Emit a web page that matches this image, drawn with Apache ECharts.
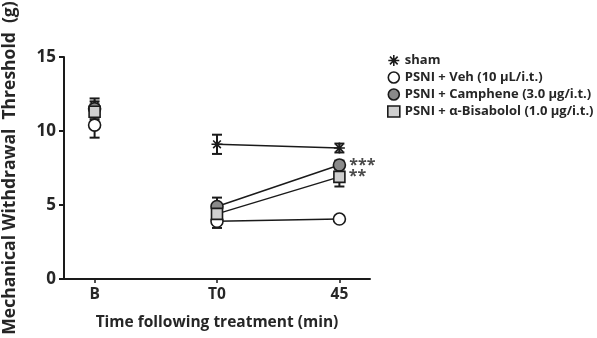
<!DOCTYPE html>
<html><head><meta charset="utf-8">
<script src="https://cdn.jsdelivr.net/npm/echarts@6/dist/echarts.min.js"></script>
<style>html,body{margin:0;padding:0;background:#fff}#c{width:597px;height:338px}</style>
</head><body><div id="c"></div>
<script>
var categories = ['B', 'T0', '45'];
var seriesNames = ['sham', 'PSNI + Veh (10 \u03bcL/i.t.)', 'PSNI + Camphene (3.0 \u03bcg/i.t.)', 'PSNI + \u03b1-Bisabolol (1.0 \u03bcg/i.t.)'];
var shamMean = [11.7, 9.1, 8.85];
var shamErr = [0.5, 0.65, 0.3];
var vehMean = [10.4, 3.9, 4.05];
var vehErr = [0.85, 0.45, 0.2];
var campheneMean = [11.5, 4.9, 7.7];
var campheneErr = [0.5, 0.6, 0.3];
var bisaMean = [11.3, 4.4, 6.9];
var bisaErr = [0.5, 0.5, 0.65];
var sigLabels = ['', '', '***', '**']; // at 45 min, per series
var yTicks = [0, 5, 10, 15];

var FONT = 'Open Sans';
var TXT = '#262626';
var starPath = 'path://M-0.7,-5L0.7,-5L0.7,5L-0.7,5ZM-5,-0.7L5,-0.7L5,0.7L-5,0.7ZM-4,-3L-3,-4L4,3L3,4ZM3,-4L4,-3L-3,4L-4,3Z';
var groups = [
  {mean: shamMean, err: shamErr, symbol: starPath, size: 11, fill: '#1a1a1a'},
  {mean: vehMean, err: vehErr, symbol: 'circle', size: 12, fill: '#ffffff'},
  {mean: campheneMean, err: campheneErr, symbol: 'circle', size: 12, fill: '#8a8a8a'},
  {mean: bisaMean, err: bisaErr, symbol: 'rect', size: 11, fill: '#cfcfcf'}
];

var series = [];
groups.forEach(function (g, i) {
  var name = seriesNames[i];
  series.push({
    type: 'custom', name: name, z: 3,
    renderItem: function (params, api) {
      var x = api.value(0), m = api.value(1), e = api.value(2);
      var top = api.coord([x, m + e]), bot = api.coord([x, m - e]);
      var w = 5;
      return {type: 'group', children: [
        {type: 'line', shape: {x1: top[0], y1: top[1], x2: bot[0], y2: bot[1]}, style: {stroke: '#1a1a1a', lineWidth: 2}},
        {type: 'line', shape: {x1: top[0] - w, y1: top[1], x2: top[0] + w, y2: top[1]}, style: {stroke: '#1a1a1a', lineWidth: 2}},
        {type: 'line', shape: {x1: bot[0] - w, y1: bot[1], x2: bot[0] + w, y2: bot[1]}, style: {stroke: '#1a1a1a', lineWidth: 2}}
      ]};
    },
    data: g.mean.map(function (v, k) { return [k, v, g.err[k]]; })
  });
  series.push({
    type: 'scatter', name: name, z: 5,
    symbol: g.symbol, symbolSize: g.size,
    itemStyle: {color: g.fill, borderColor: '#1a1a1a', borderWidth: i === 0 ? 0 : 1.6, opacity: 1},
    data: [[0, g.mean[0]]]
  });
  series.push({
    type: 'line', name: name, z: 4,
    symbol: g.symbol, symbolSize: g.size, showAllSymbol: true,
    lineStyle: {color: '#1a1a1a', width: 1.5},
    itemStyle: {color: g.fill, borderColor: '#1a1a1a', borderWidth: i === 0 ? 0 : 1.6},
    label: {
      show: true, position: 'right', distance: 3,
      formatter: function (p) { return p.dataIndex === 1 ? sigLabels[i] : ''; },
      fontFamily: FONT, fontWeight: 'bold', fontSize: 16, color: '#4a4a4a'
    },
    data: [[1, g.mean[1]], [2, g.mean[2]]]
  });
});

var chart = echarts.init(document.getElementById('c'));
chart.setOption({
  animation: false,
  backgroundColor: '#fff',
  textStyle: {fontFamily: FONT},
  grid: {left: 64, right: 227, top: 57, bottom: 59, containLabel: false, outerBoundsMode: 'none'},
  legend: {
    orient: 'vertical', left: 382, top: 49, itemGap: 4, itemWidth: 12, itemHeight: 11,
    textStyle: {fontFamily: FONT, fontWeight: 'bold', fontSize: 13, color: TXT},
    data: seriesNames.map(function (n, i) {
      return {name: n, icon: groups[i].symbol, itemStyle: {color: groups[i].fill, borderColor: '#1a1a1a', borderWidth: i === 0 ? 0 : 1.6}};
    })
  },
  xAxis: {
    type: 'value', min: -0.25, max: 2.25,
    name: 'Time following treatment (min)', nameLocation: 'middle', nameGap: 36,
    nameTextStyle: {fontFamily: FONT, fontWeight: 'bold', fontSize: 15.5, color: TXT},
    axisLine: {show: true, onZero: false, lineStyle: {color: '#1a1a1a', width: 2}},
    axisTick: {show: true, customValues: [0, 1, 2], length: 4, lineStyle: {color: '#1a1a1a', width: 1.5}},
    axisLabel: {customValues: [0, 1, 2], formatter: function (v) { return categories[Math.round(v)]; }, margin: 8,
      fontFamily: FONT, fontWeight: 'bold', fontSize: 15.5, color: TXT},
    splitLine: {show: false}
  },
  yAxis: {
    type: 'value', min: 0, max: 15, interval: 5,
    name: 'Mechanical Withdrawal  Threshold  (g)', nameLocation: 'middle', nameGap: 45,
    nameTextStyle: {fontFamily: FONT, fontWeight: 'bold', fontSize: 17.5, color: TXT},
    axisLine: {show: true, onZero: false, lineStyle: {color: '#1a1a1a', width: 2}},
    axisTick: {show: true, length: 5, lineStyle: {color: '#1a1a1a', width: 2}},
    axisLabel: {customValues: yTicks, margin: 8, fontFamily: FONT, fontWeight: 'bold', fontSize: 17, color: TXT},
    splitLine: {show: false}
  },
  series: series
});
</script></body></html>
